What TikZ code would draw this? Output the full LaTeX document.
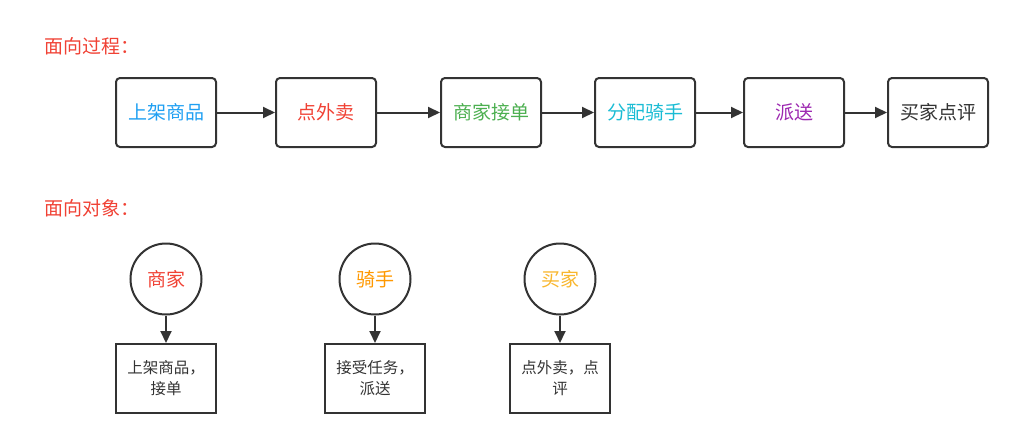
\documentclass[tikz,border=0pt]{standalone}
\usepackage{fontspec}
\setmainfont{Noto Sans CJK SC}
\usetikzlibrary{arrows.meta}
\definecolor{tred}{HTML}{F04134}
\definecolor{tblue}{HTML}{1E9FF2}
\definecolor{tgreen}{HTML}{4CAF50}
\definecolor{tcyan}{HTML}{1ABCD4}
\definecolor{tpurple}{HTML}{9C27B0}
\definecolor{torange}{HTML}{FF9800}
\definecolor{tamber}{HTML}{F8B62D}
\definecolor{tdark}{HTML}{333333}
\tikzset{
  procbox/.style={draw=tdark, line width=2pt, rounded corners=4pt, minimum width=100pt, minimum height=69pt, inner sep=0pt, font=\fontsize{19}{22}\selectfont},
  objcircle/.style={draw=tdark, line width=2pt, circle, minimum size=71pt, inner sep=0pt, font=\fontsize{19}{22}\selectfont},
  objbox/.style={draw=tdark, line width=2pt, minimum width=100pt, minimum height=69pt, inner sep=0pt, align=center, text=tdark, font=\fontsize{15.5}{21}\selectfont},
  conn/.style={draw=tdark, line width=2pt, -{Triangle[length=12pt,width=11pt]}},
  heading/.style={anchor=west, text=tred, inner sep=0pt, font=\fontsize{19}{22}\selectfont}
}
\begin{document}
\begin{tikzpicture}[x=1pt,y=-1pt]
\useasboundingbox (0,0) rectangle (1013,439);
\node[heading] (h1) at (44,46) {面向过程：};
\node[heading] (h2) at (44,208) {面向对象：};

\node[procbox, text=tblue] (p1) at (166,112.5) {上架商品};
\node[procbox, text=tred] (p2) at (326,112.5) {点外卖};
\node[procbox, text=tgreen] (p3) at (491,112.5) {商家接单};
\node[procbox, text=tcyan] (p4) at (645,112.5) {分配骑手};
\node[procbox, text=tpurple] (p5) at (794,112.5) {派送};
\node[procbox, text=tdark] (p6) at (938,112.5) {买家点评};
\draw[conn] (p1) -- (p2);
\draw[conn] (p2) -- (p3);
\draw[conn] (p3) -- (p4);
\draw[conn] (p4) -- (p5);
\draw[conn] (p5) -- (p6);

\node[objcircle, text=tred] (c1) at (166,279) {商家};
\node[objcircle, text=torange] (c2) at (375,279) {骑手};
\node[objcircle, text=tamber] (c3) at (560,279) {买家};

\node[objbox] (b1) at (166,378.5) {上架商品，\\接单};
\node[objbox] (b2) at (375,378.5) {接受任务，\\派送};
\node[objbox] (b3) at (560,378.5) {点外卖，点\\评};
\draw[conn] (c1) -- (b1);
\draw[conn] (c2) -- (b2);
\draw[conn] (c3) -- (b3);
\end{tikzpicture}
\end{document}
